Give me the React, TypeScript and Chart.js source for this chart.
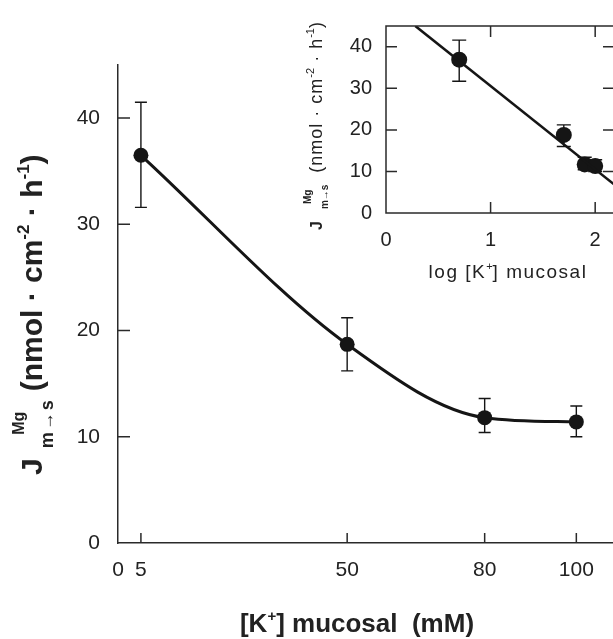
import React, { useEffect, useRef } from 'react';
import { Chart, registerables } from 'chart.js';

Chart.register(...registerables);

// ---- data ----
const kMucosal = [5, 50, 80, 100];
const jMg = [36.5, 18.7, 11.8, 11.4];
const jMgLow = [31.6, 16.2, 10.4, 10.0];
const jMgHigh = [41.5, 21.2, 13.6, 12.9];

const logK = [0.7, 1.7, 1.9, 2.0];
const insetJ = [36.9, 18.8, 11.7, 11.3];
const insetLow = [31.7, 16.0, 10.4, 10.0];
const insetHigh = [41.6, 21.2, 13.4, 12.8];
const fitLogK = [0.28, 2.18];
const fitJ = [45, 6.9];

const mainXTicks = [0, 5, 50, 80, 100];
const mainXTickMarks = [5, 50, 80, 100];
const mainYTicks = [0, 10, 20, 30, 40];
const mainYTickMarks = [10, 20, 30, 40];
const insetXTicks = [0, 1, 2];
const insetXTickMarks = [1, 2];
const insetYTicks = [0, 10, 20, 30, 40];
const insetYTickMarks = [10, 20, 30, 40];

// ---- style ----
const FONT = '"Liberation Sans", Arial, Helvetica, sans-serif';
const INK = '#151515';
const AXIS = '#2a2a2a';
const TEXT = '#222222';

type Piece = { text?: string; size?: number; bold?: boolean; dy?: number; gap?: number; ls?: number; stack?: Piece[] };

function pieceFont(p: Piece) {
  return `${p.bold ? 'bold ' : ''}${p.size}px ${FONT}`;
}
function measurePiece(ctx: any, p: Piece): number {
  if (p.stack) return Math.max(...p.stack.map((s) => measurePiece(ctx, s)));
  ctx.font = pieceFont(p);
  ctx.letterSpacing = `${p.ls || 0}px`;
  return ctx.measureText(p.text || '').width;
}
function drawRich(ctx: any, x: number, y: number, angle: number, pieces: Piece[], align: 'start' | 'center') {
  ctx.save();
  ctx.translate(x, y);
  ctx.rotate(angle);
  ctx.fillStyle = TEXT;
  ctx.textBaseline = 'alphabetic';
  ctx.textAlign = 'left';
  const total = pieces.reduce((a, p) => a + (p.gap || 0) + measurePiece(ctx, p), 0);
  let cx = align === 'center' ? -total / 2 : 0;
  for (const p of pieces) {
    cx += p.gap || 0;
    const w = measurePiece(ctx, p);
    const items = p.stack ? p.stack : [p];
    for (const s of items) {
      const sw = measurePiece(ctx, s);
      ctx.fillText(s.text || '', cx + (w - sw) / 2, s.dy || 0);
    }
    cx += w;
  }
  ctx.letterSpacing = '0px';
  ctx.restore();
}

function drawErrorBars(chart: any, xs: number[], lows: number[], highs: number[], cap: number, lw: number) {
  const { ctx } = chart;
  const sx = chart.scales.x;
  const sy = chart.scales.y;
  ctx.save();
  ctx.strokeStyle = INK;
  ctx.lineWidth = lw;
  ctx.beginPath();
  xs.forEach((xv, i) => {
    const px = sx.getPixelForValue(xv);
    const y1 = sy.getPixelForValue(lows[i]);
    const y2 = sy.getPixelForValue(highs[i]);
    ctx.moveTo(px, y1);
    ctx.lineTo(px, y2);
    ctx.moveTo(px - cap / 2, y1);
    ctx.lineTo(px + cap / 2, y1);
    ctx.moveTo(px - cap / 2, y2);
    ctx.lineTo(px + cap / 2, y2);
  });
  ctx.stroke();
  ctx.restore();
}

const mainDecor = {
  id: 'mainDecor',
  beforeDatasetsDraw(chart: any) {
    drawErrorBars(chart, kMucosal, jMgLow, jMgHigh, 12, 1.4);
  },
  afterDraw(chart: any) {
    const { ctx, chartArea } = chart;
    const sx = chart.scales.x;
    const sy = chart.scales.y;
    ctx.save();
    ctx.strokeStyle = AXIS;
    ctx.lineWidth = 1.5;
    ctx.beginPath();
    mainYTickMarks.forEach((v) => {
      const py = sy.getPixelForValue(v);
      ctx.moveTo(chartArea.left, py);
      ctx.lineTo(chartArea.left + 12, py);
    });
    mainXTickMarks.forEach((v) => {
      const px = sx.getPixelForValue(v);
      ctx.moveTo(px, chartArea.bottom);
      ctx.lineTo(px, chartArea.bottom - 10);
    });
    ctx.stroke();
    ctx.restore();

    // y title
    drawRich(ctx, 42, 475, -Math.PI / 2, [
      { text: 'J', size: 30, bold: true },
      { gap: 10, stack: [
        { text: 'Mg', size: 16, bold: true, dy: -18 },
        { text: 'm→s', size: 18, bold: true, dy: 11, ls: 2 },
      ] },
      { gap: 7, text: '(nmol · cm', size: 30, bold: true },
      { text: '-2', size: 17, bold: true, dy: -13 },
      { text: ' · h', size: 30, bold: true },
      { text: '-1', size: 17, bold: true, dy: -13 },
      { text: ')', size: 30, bold: true },
    ], 'start');

    // x title
    drawRich(ctx, 357, 632, 0, [
      { text: '[K', size: 26, bold: true },
      { text: '+', size: 15, bold: true, dy: -11 },
      { text: '] mucosal  (mM)', size: 26, bold: true },
    ], 'center');
  },
};

const insetDecor = {
  id: 'insetDecor',
  beforeDatasetsDraw(chart: any) {
    drawErrorBars(chart, logK, insetLow, insetHigh, 14, 1.4);
  },
  afterDraw(chart: any) {
    const { ctx, chartArea } = chart;
    const sx = chart.scales.x;
    const sy = chart.scales.y;
    const { left, right, top, bottom } = chartArea;
    ctx.save();
    ctx.strokeStyle = AXIS;
    ctx.lineWidth = 1.5;
    ctx.strokeRect(left, top, right - left, bottom - top);
    ctx.beginPath();
    insetYTickMarks.forEach((v) => {
      const py = sy.getPixelForValue(v);
      ctx.moveTo(left, py);
      ctx.lineTo(left + 11, py);
      ctx.moveTo(right, py);
      ctx.lineTo(right - 11, py);
    });
    insetXTickMarks.forEach((v) => {
      const px = sx.getPixelForValue(v);
      ctx.moveTo(px, bottom);
      ctx.lineTo(px, bottom - 11);
      ctx.moveTo(px, top);
      ctx.lineTo(px, top + 11);
    });
    ctx.stroke();
    ctx.restore();

    // inset y title
    drawRich(ctx, 32, 230, -Math.PI / 2, [
      { text: 'J', size: 16, bold: true },
      { gap: 12, stack: [
        { text: 'Mg', size: 10, bold: true, dy: -11 },
        { text: 'm→s', size: 10, bold: true, dy: 6 },
      ] },
      { gap: 12, text: '(nmol · cm', size: 18, ls: 1 },
      { text: '-2', size: 11, dy: -8 },
      { text: ' · h', size: 18, ls: 1 },
      { text: '-1', size: 11, dy: -8 },
      { text: ')', size: 18 },
    ], 'start');

    // inset x title
    drawRich(ctx, 218, 278, 0, [
      { text: 'log [K', size: 19, ls: 1.5 },
      { text: '+', size: 11, dy: -8 },
      { text: '] mucosal', size: 19, ls: 1.5 },
    ], 'center');
  },
};

function tickFont(size: number) {
  return { family: FONT, size, weight: 'normal' as const };
}

export default function App() {
  const mainRef = useRef<HTMLCanvasElement>(null);
  const insetRef = useRef<HTMLCanvasElement>(null);

  useEffect(() => {
    const main = new Chart(mainRef.current as HTMLCanvasElement, {
      type: 'line',
      data: {
        datasets: [
          {
            data: kMucosal.map((x, i) => ({ x, y: jMg[i] })),
            borderColor: INK,
            borderWidth: 3,
            pointRadius: 7.5,
            pointBackgroundColor: INK,
            pointBorderWidth: 0,
            cubicInterpolationMode: 'monotone',
            clip: false,
          } as any,
        ],
      },
      options: {
        responsive: false,
        animation: false,
        devicePixelRatio: 1,
        events: [],
        layout: { autoPadding: false, padding: { top: 65, left: 0, right: 0, bottom: 0 } },
        plugins: { legend: { display: false }, tooltip: { enabled: false } },
        scales: {
          x: {
            type: 'linear',
            min: 0,
            max: 108,
            afterBuildTicks: (s: any) => { s.ticks = mainXTicks.map((v) => ({ value: v })); },
            afterFit: (s: any) => { s.height = 96; },
            grid: { display: false, drawTicks: false },
            border: { display: true, color: AXIS, width: 1.5 },
            ticks: { color: TEXT, font: tickFont(21), padding: 15, maxRotation: 0, autoSkip: false },
          },
          y: {
            type: 'linear',
            min: 0,
            max: 45,
            afterBuildTicks: (s: any) => { s.ticks = mainYTicks.map((v) => ({ value: v })); },
            afterFit: (s: any) => { s.width = 118; },
            grid: { display: false, drawTicks: false },
            border: { display: true, color: AXIS, width: 1.5 },
            ticks: { color: TEXT, font: tickFont(21), padding: 18, autoSkip: false },
          },
        },
      } as any,
      plugins: [mainDecor],
    });

    const inset = new Chart(insetRef.current as HTMLCanvasElement, {
      type: 'line',
      data: {
        datasets: [
          {
            data: fitLogK.map((x, i) => ({ x, y: fitJ[i] })),
            borderColor: INK,
            borderWidth: 2.6,
            pointRadius: 0,
          } as any,
          {
            data: logK.map((x, i) => ({ x, y: insetJ[i] })),
            showLine: false,
            pointRadius: 8,
            pointBackgroundColor: INK,
            pointBorderWidth: 0,
            clip: false,
          } as any,
        ],
      },
      options: {
        responsive: false,
        animation: false,
        devicePixelRatio: 1,
        events: [],
        layout: { autoPadding: false, padding: { top: 11, left: 0, right: 6, bottom: 0 } },
        plugins: { legend: { display: false }, tooltip: { enabled: false } },
        scales: {
          x: {
            type: 'linear',
            min: 0,
            max: 2.18,
            afterBuildTicks: (s: any) => { s.ticks = insetXTicks.map((v) => ({ value: v })); },
            afterFit: (s: any) => { s.height = 77; },
            grid: { display: false, drawTicks: false },
            border: { display: false },
            ticks: { color: TEXT, font: tickFont(20), padding: 15, maxRotation: 0, autoSkip: false },
          },
          y: {
            type: 'linear',
            min: 0,
            max: 45,
            afterBuildTicks: (s: any) => { s.ticks = insetYTicks.map((v) => ({ value: v })); },
            afterFit: (s: any) => { s.width = 96; },
            grid: { display: false, drawTicks: false },
            border: { display: false },
            ticks: { color: TEXT, font: tickFont(20), padding: 14, autoSkip: false },
          },
        },
      } as any,
      plugins: [insetDecor],
    });

    return () => {
      main.destroy();
      inset.destroy();
    };
  }, []);

  return (
    <div style={{ position: 'fixed', left: 0, top: 0, width: 613, height: 639, overflow: 'hidden', background: '#fff' }}>
      <canvas ref={mainRef} width={613} height={639} style={{ position: 'absolute', left: 0, top: 0, width: 613, height: 639 }} />
      <canvas ref={insetRef} width={330} height={290} style={{ position: 'absolute', left: 290, top: 0, width: 330, height: 290 }} />
    </div>
  );
}
